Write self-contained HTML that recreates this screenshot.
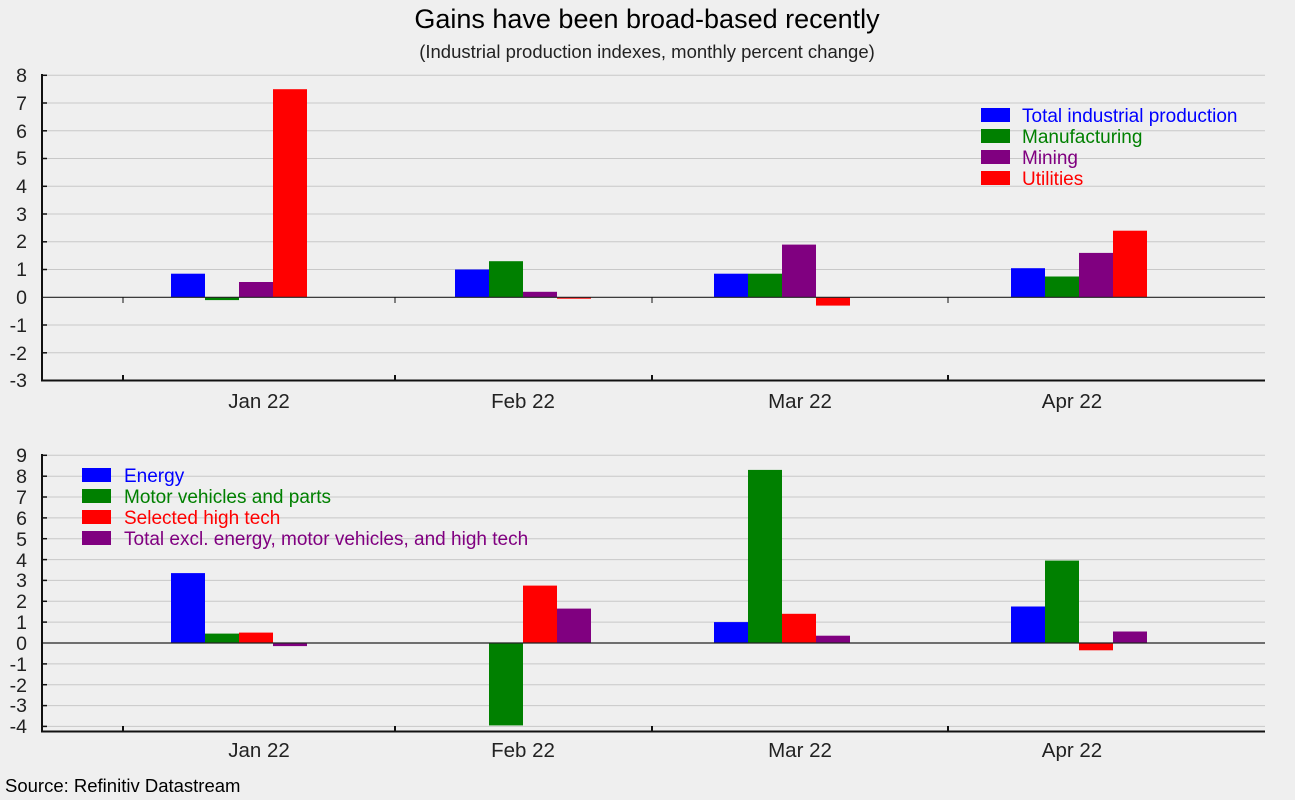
<!DOCTYPE html>
<html><head><style>body{margin:0;background:#efefef}svg{display:block;font-family:"Liberation Sans",sans-serif}</style></head><body>
<svg width="1295" height="800" xmlns="http://www.w3.org/2000/svg">
<rect width="1295" height="800" fill="#efefef"/>
<text x="647" y="28" font-size="27" text-anchor="middle" fill="#000">Gains have been broad-based recently</text>
<text x="647" y="58" font-size="18.5" text-anchor="middle" fill="#222">(Industrial production indexes, monthly percent change)</text>
<g id="top" stroke="#c8c8c8" stroke-width="1">
<line x1="42" x2="1265" y1="75.3" y2="75.3"/><line x1="42" x2="1265" y1="103" y2="103"/><line x1="42" x2="1265" y1="130.8" y2="130.8"/><line x1="42" x2="1265" y1="158.5" y2="158.5"/><line x1="42" x2="1265" y1="186.3" y2="186.3"/><line x1="42" x2="1265" y1="214" y2="214"/><line x1="42" x2="1265" y1="241.8" y2="241.8"/><line x1="42" x2="1265" y1="269.5" y2="269.5"/><line x1="42" x2="1265" y1="325" y2="325"/><line x1="42" x2="1265" y1="352.8" y2="352.8"/>
</g>
<g font-size="19.5" fill="#222" text-anchor="end">
<text x="27" y="82">8</text><text x="27" y="110">7</text><text x="27" y="138">6</text><text x="27" y="165">5</text><text x="27" y="193">4</text><text x="27" y="221">3</text><text x="27" y="248">2</text><text x="27" y="276">1</text><text x="27" y="304">0</text><text x="27" y="332">-1</text><text x="27" y="360">-2</text><text x="27" y="387">-3</text>
</g>
<g>
<rect x="171" y="273.7" width="34" height="23.6" fill="#0000ff"/><rect x="205" y="297.3" width="34" height="2.8" fill="#008000"/><rect x="239" y="282" width="34" height="15.3" fill="#800080"/><rect x="273" y="89.2" width="34" height="208.1" fill="#ff0000"/>
<rect x="455" y="269.5" width="34" height="27.8" fill="#0000ff"/><rect x="489" y="261.2" width="34" height="36.1" fill="#008000"/><rect x="523" y="291.8" width="34" height="5.5" fill="#800080"/><rect x="557" y="297.3" width="34" height="1.4" fill="#ff0000"/>
<rect x="714" y="273.7" width="34" height="23.6" fill="#0000ff"/><rect x="748" y="273.7" width="34" height="23.6" fill="#008000"/><rect x="782" y="244.6" width="34" height="52.7" fill="#800080"/><rect x="816" y="297.3" width="34" height="8.3" fill="#ff0000"/>
<rect x="1011" y="268.2" width="34" height="29.1" fill="#0000ff"/><rect x="1045" y="276.5" width="34" height="20.8" fill="#008000"/><rect x="1079" y="252.9" width="34" height="44.4" fill="#800080"/><rect x="1113" y="230.7" width="34" height="66.6" fill="#ff0000"/>
</g>
<line x1="42" x2="1265" y1="297.3" y2="297.3" stroke="#222" stroke-width="1.2"/>
<line x1="42" x2="42" y1="74" y2="381" stroke="#111" stroke-width="2"/>
<line x1="41" x2="1265" y1="380.5" y2="380.5" stroke="#111" stroke-width="2"/>
<g stroke="#111" stroke-width="2"><line x1="123" x2="123" y1="375" y2="380"/><line x1="395" x2="395" y1="375" y2="380"/><line x1="652" x2="652" y1="375" y2="380"/><line x1="948" x2="948" y1="375" y2="380"/></g>
<g stroke="#111" stroke-width="1"><line x1="123" x2="123" y1="297" y2="303"/><line x1="395" x2="395" y1="297" y2="303"/><line x1="652" x2="652" y1="297" y2="303"/><line x1="948" x2="948" y1="297" y2="303"/></g>
<g stroke="#111" stroke-width="1.5"><line x1="42" x2="47" y1="75.3" y2="75.3"/><line x1="42" x2="47" y1="103" y2="103"/><line x1="42" x2="47" y1="130.8" y2="130.8"/><line x1="42" x2="47" y1="158.5" y2="158.5"/><line x1="42" x2="47" y1="186.3" y2="186.3"/><line x1="42" x2="47" y1="214" y2="214"/><line x1="42" x2="47" y1="241.8" y2="241.8"/><line x1="42" x2="47" y1="269.5" y2="269.5"/><line x1="42" x2="47" y1="325" y2="325"/><line x1="42" x2="47" y1="352.8" y2="352.8"/></g>
<g font-size="20.5" fill="#222" text-anchor="middle"><text x="259" y="408">Jan 22</text><text x="523" y="408">Feb 22</text><text x="800" y="408">Mar 22</text><text x="1072" y="408">Apr 22</text></g>
<g font-size="19">
<rect x="981" y="108" width="29" height="14" fill="#0000ff"/><text x="1022" y="122" fill="#0000ff">Total industrial production</text>
<rect x="981" y="129" width="29" height="14" fill="#008000"/><text x="1022" y="143" fill="#008000">Manufacturing</text>
<rect x="981" y="150" width="29" height="14" fill="#800080"/><text x="1022" y="164" fill="#800080">Mining</text>
<rect x="981" y="171" width="29" height="14" fill="#ff0000"/><text x="1022" y="185" fill="#ff0000">Utilities</text>
</g>

<g stroke="#c8c8c8" stroke-width="1">
<line x1="42" x2="1265" y1="455.3" y2="455.3"/><line x1="42" x2="1265" y1="476.2" y2="476.2"/><line x1="42" x2="1265" y1="497" y2="497"/><line x1="42" x2="1265" y1="517.9" y2="517.9"/><line x1="42" x2="1265" y1="538.7" y2="538.7"/><line x1="42" x2="1265" y1="559.6" y2="559.6"/><line x1="42" x2="1265" y1="580.4" y2="580.4"/><line x1="42" x2="1265" y1="601.3" y2="601.3"/><line x1="42" x2="1265" y1="622.1" y2="622.1"/><line x1="42" x2="1265" y1="663.9" y2="663.9"/><line x1="42" x2="1265" y1="684.7" y2="684.7"/><line x1="42" x2="1265" y1="705.6" y2="705.6"/><line x1="42" x2="1265" y1="726.4" y2="726.4"/>
</g>
<g font-size="19.5" fill="#222" text-anchor="end">
<text x="27" y="462">9</text><text x="27" y="483">8</text><text x="27" y="504">7</text><text x="27" y="525">6</text><text x="27" y="546">5</text><text x="27" y="567">4</text><text x="27" y="587">3</text><text x="27" y="608">2</text><text x="27" y="629">1</text><text x="27" y="650">0</text><text x="27" y="671">-1</text><text x="27" y="692">-2</text><text x="27" y="712">-3</text><text x="27" y="733">-4</text>
</g>
<g>
<rect x="171" y="573.1" width="34" height="69.9" fill="#0000ff"/><rect x="205" y="633.6" width="34" height="9.4" fill="#008000"/><rect x="239" y="632.6" width="34" height="10.4" fill="#ff0000"/><rect x="273" y="643" width="34" height="3.1" fill="#800080"/>
<rect x="489" y="643" width="34" height="82.4" fill="#008000"/><rect x="523" y="585.6" width="34" height="57.4" fill="#ff0000"/><rect x="557" y="608.6" width="34" height="34.4" fill="#800080"/>
<rect x="714" y="622.1" width="34" height="20.9" fill="#0000ff"/><rect x="748" y="469.9" width="34" height="173.1" fill="#008000"/><rect x="782" y="613.8" width="34" height="29.2" fill="#ff0000"/><rect x="816" y="635.7" width="34" height="7.3" fill="#800080"/>
<rect x="1011" y="606.5" width="34" height="36.5" fill="#0000ff"/><rect x="1045" y="560.6" width="34" height="82.4" fill="#008000"/><rect x="1079" y="643" width="34" height="7.3" fill="#ff0000"/><rect x="1113" y="631.5" width="34" height="11.5" fill="#800080"/>
</g>
<line x1="42" x2="1265" y1="643" y2="643" stroke="#222" stroke-width="1.2"/>
<line x1="42" x2="42" y1="454" y2="732" stroke="#111" stroke-width="2"/>
<line x1="41" x2="1265" y1="731.5" y2="731.5" stroke="#111" stroke-width="2"/>
<g stroke="#111" stroke-width="2"><line x1="123" x2="123" y1="726" y2="731"/><line x1="395" x2="395" y1="726" y2="731"/><line x1="652" x2="652" y1="726" y2="731"/><line x1="948" x2="948" y1="726" y2="731"/></g>
<g stroke="#111" stroke-width="1.5"><line x1="42" x2="47" y1="455.3" y2="455.3"/><line x1="42" x2="47" y1="476.2" y2="476.2"/><line x1="42" x2="47" y1="497" y2="497"/><line x1="42" x2="47" y1="517.9" y2="517.9"/><line x1="42" x2="47" y1="538.7" y2="538.7"/><line x1="42" x2="47" y1="559.6" y2="559.6"/><line x1="42" x2="47" y1="580.4" y2="580.4"/><line x1="42" x2="47" y1="601.3" y2="601.3"/><line x1="42" x2="47" y1="622.1" y2="622.1"/><line x1="42" x2="47" y1="663.9" y2="663.9"/><line x1="42" x2="47" y1="684.7" y2="684.7"/><line x1="42" x2="47" y1="705.6" y2="705.6"/><line x1="42" x2="47" y1="726.4" y2="726.4"/></g>
<g font-size="20.5" fill="#222" text-anchor="middle"><text x="259" y="757">Jan 22</text><text x="523" y="757">Feb 22</text><text x="800" y="757">Mar 22</text><text x="1072" y="757">Apr 22</text></g>
<g font-size="19">
<rect x="82" y="468" width="29" height="14" fill="#0000ff"/><text x="124" y="482" fill="#0000ff">Energy</text>
<rect x="82" y="489" width="29" height="14" fill="#008000"/><text x="124" y="503" fill="#008000">Motor vehicles and parts</text>
<rect x="82" y="510" width="29" height="14" fill="#ff0000"/><text x="124" y="524" fill="#ff0000">Selected high tech</text>
<rect x="82" y="531" width="29" height="14" fill="#800080"/><text x="124" y="545" fill="#800080">Total excl. energy, motor vehicles, and high tech</text>
</g>
<text x="5" y="792" font-size="18.5" fill="#000">Source: Refinitiv Datastream</text>
</svg>
</body></html>
